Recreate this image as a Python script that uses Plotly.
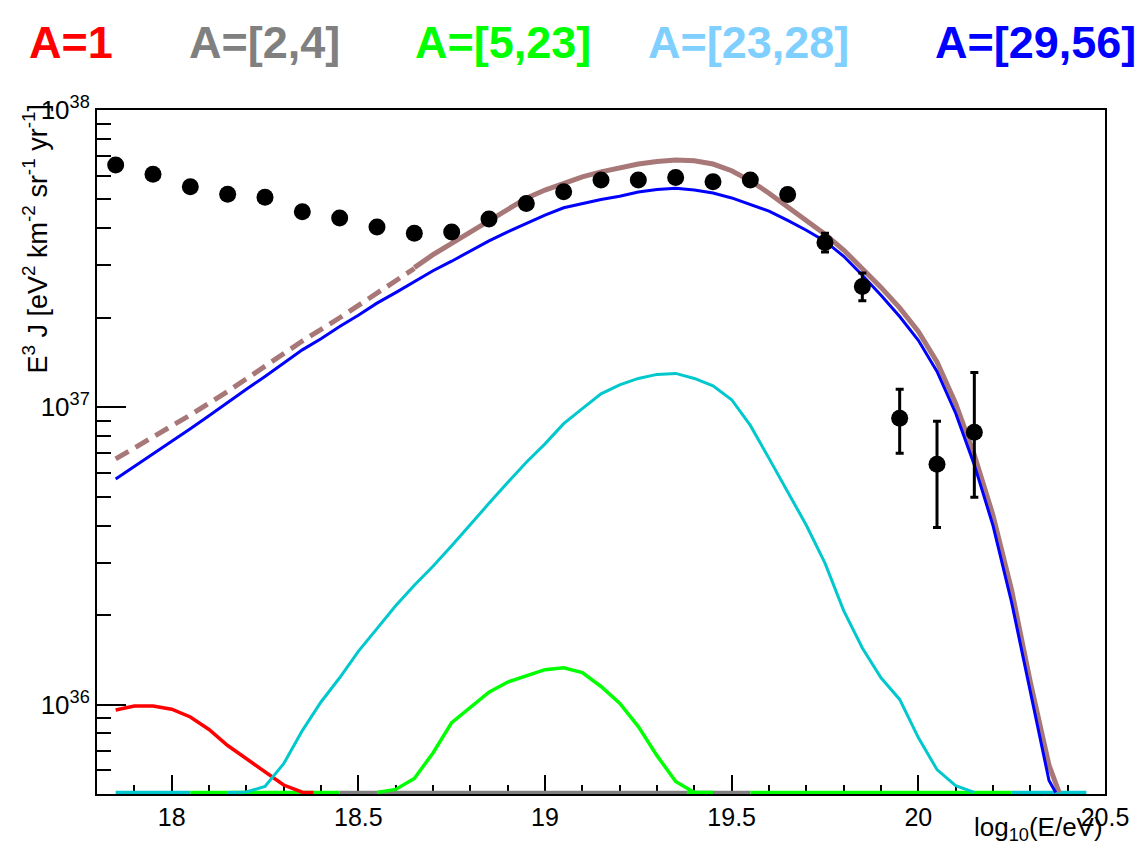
import numpy as np
import plotly.graph_objects as go

# ---------------- data ----------------
Y_MIN, Y_MAX = 5e35, 1e38
FLOOR = 5.06e35  # value at which ROOT draws out-of-range (zero) components

# measured data points
data_x = [17.85, 17.95, 18.05, 18.15, 18.25, 18.35, 18.45, 18.55, 18.65, 18.75, 18.85, 18.95,
          19.05, 19.15, 19.25, 19.35, 19.45, 19.55, 19.65, 19.75, 19.85, 19.95, 20.05, 20.15]
data_y = [6.53e37, 6.08e37, 5.52e37, 5.21e37, 5.09e37, 4.55e37, 4.33e37, 4.04e37, 3.85e37, 3.89e37,
          4.30e37, 4.85e37, 5.31e37, 5.81e37, 5.81e37, 5.93e37, 5.74e37, 5.81e37, 5.20e37, 3.58e37,
          2.55e37, 9.18e36, 6.43e36, 8.24e36]
data_hi = [6.58e37, 6.13e37, 5.57e37, 5.26e37, 5.14e37, 4.60e37, 4.39e37, 4.10e37, 3.92e37, 3.96e37,
           4.39e37, 4.96e37, 5.44e37, 5.97e37, 5.99e37, 6.13e37, 5.95e37, 6.02e37, 5.40e37, 3.85e37,
           2.83e37, 1.15e37, 8.98e36, 1.31e37]
data_lo = [6.48e37, 6.03e37, 5.47e37, 5.16e37, 5.04e37, 4.50e37, 4.27e37, 3.98e37, 3.78e37, 3.82e37,
           4.21e37, 4.74e37, 5.18e37, 5.65e37, 5.63e37, 5.73e37, 5.53e37, 5.60e37, 5.00e37, 3.33e37,
           2.28e37, 7.00e36, 3.94e36, 4.98e36]

# total model (brown), dashed below the fit range
total_dash_x = [17.85, 17.95, 18.05, 18.15, 18.25, 18.35, 18.45, 18.55, 18.65]
total_dash_y = [6.70e36, 7.94e36, 9.42e36, 1.13e37, 1.38e37, 1.67e37, 2.00e37, 2.42e37, 2.93e37]
total_x = [18.65, 18.7, 18.75, 18.8, 18.85, 18.9, 18.95, 19.0, 19.05, 19.1, 19.15, 19.2, 19.25,
           19.3, 19.35, 19.4, 19.45, 19.5, 19.55, 19.6, 19.65, 19.7, 19.75, 19.8, 19.85, 19.9,
           19.95, 20.0, 20.05, 20.1, 20.15, 20.2, 20.25, 20.3, 20.35, 20.377]
total_y = [2.95e37, 3.26e37, 3.56e37, 3.89e37, 4.27e37, 4.67e37, 5.05e37, 5.38e37, 5.69e37, 5.96e37,
           6.19e37, 6.41e37, 6.58e37, 6.71e37, 6.79e37, 6.75e37, 6.58e37, 6.25e37, 5.78e37, 5.25e37,
           4.72e37, 4.27e37, 3.82e37, 3.38e37, 2.93e37, 2.53e37, 2.16e37, 1.80e37, 1.42e37, 1.03e37,
           6.90e36, 4.33e36, 2.42e36, 1.19e36, 6.25e35, FLOOR]

# A=[29,56] component (blue)
heavy_x = [17.85, 17.9, 17.95, 18.0, 18.05, 18.1, 18.15, 18.2, 18.25, 18.3, 18.35, 18.4, 18.45,
           18.5, 18.55, 18.6, 18.65, 18.7, 18.75, 18.8, 18.85, 18.9, 18.95, 19.0, 19.05, 19.1,
           19.15, 19.2, 19.25, 19.3, 19.35, 19.4, 19.45, 19.5, 19.55, 19.6, 19.65, 19.7, 19.75,
           19.8, 19.85, 19.9, 19.95, 20.0, 20.05, 20.1, 20.15, 20.2, 20.25, 20.3, 20.35, 20.368]
heavy_y = [5.74e36, 6.32e36, 6.98e36, 7.69e36, 8.47e36, 9.36e36, 1.04e37, 1.15e37, 1.27e37, 1.41e37,
           1.56e37, 1.70e37, 1.87e37, 2.04e37, 2.24e37, 2.43e37, 2.64e37, 2.88e37, 3.10e37, 3.35e37,
           3.63e37, 3.89e37, 4.15e37, 4.43e37, 4.69e37, 4.85e37, 5.00e37, 5.13e37, 5.30e37, 5.40e37,
           5.45e37, 5.38e37, 5.26e37, 5.06e37, 4.81e37, 4.57e37, 4.25e37, 3.94e37, 3.62e37, 3.22e37,
           2.78e37, 2.38e37, 2.02e37, 1.68e37, 1.32e37, 9.55e36, 6.40e36, 4.00e36, 2.20e36, 1.09e36,
           5.55e35, FLOOR]

# A=[23,28] component (cyan)
mid_x = [18.15, 18.2, 18.25, 18.3, 18.35, 18.4, 18.45, 18.5, 18.55, 18.6, 18.65, 18.7, 18.75, 18.8,
         18.85, 18.9, 18.95, 19.0, 19.05, 19.1, 19.15, 19.2, 19.25, 19.3, 19.35, 19.4, 19.45, 19.5,
         19.55, 19.6, 19.65, 19.7, 19.75, 19.8, 19.85, 19.9, 19.95, 20.0, 20.05, 20.1, 20.15]
mid_y = [FLOOR, 5.08e35, 5.30e35, 6.32e35, 8.17e35, 1.02e36, 1.23e36, 1.51e36, 1.80e36, 2.15e36,
         2.52e36, 2.92e36, 3.42e36, 4.04e36, 4.75e36, 5.58e36, 6.53e36, 7.53e36, 8.81e36, 9.89e36,
         1.11e37, 1.19e37, 1.25e37, 1.29e37, 1.30e37, 1.25e37, 1.18e37, 1.06e37, 8.69e36, 6.73e36,
         5.18e36, 4.01e36, 2.99e36, 2.07e36, 1.55e36, 1.23e36, 1.04e36, 7.74e35, 6.04e35, 5.33e35, FLOOR]

# A=[5,23] component (green)
light_x = [18.55, 18.6, 18.65, 18.7, 18.75, 18.8, 18.85, 18.9, 18.95, 19.0, 19.05, 19.1, 19.15,
           19.2, 19.25, 19.3, 19.35, 19.4]
light_y = [FLOOR, 5.18e35, 5.64e35, 6.87e35, 8.69e35, 9.82e35, 1.10e36, 1.19e36, 1.25e36, 1.31e36,
           1.33e36, 1.28e36, 1.15e36, 1.01e36, 8.43e35, 6.73e35, 5.51e35, FLOOR]

# A=1 component (red)
proton_x = [17.85, 17.9, 17.95, 18.0, 18.05, 18.1, 18.15, 18.2, 18.25, 18.3, 18.35, 18.38]
proton_y = [9.59e35, 9.89e35, 9.89e35, 9.64e35, 9.08e35, 8.24e35, 7.28e35, 6.58e35, 5.90e35,
            5.36e35, 5.07e35, FLOOR]

# parts of the components that lie below the plotted range (drawn on the floor)
floor_colors = ["cyan", "green", "green", "gray", "green", "gray", "green", "cyan"]
floor_start = [17.85, 18.05, 18.15, 18.45, 19.38, 19.45, 19.55, 20.25]
floor_end = [18.05, 18.15, 18.45, 19.45, 19.45, 19.55, 20.25, 20.45]

legend_labels = ["A=1", "A=[2,4]", "A=[5,23]", "A=[23,28]", "A=[29,56]"]

x_tickvals = [18, 18.5, 19, 19.5, 20, 20.5]
x_ticktext = ["18", "18.5", "19", "19.5", "20", "20.5"]
y_tickvals = [1e36, 1e37, 1e38]
y_ticktext = ["10<sup>36</sup>", "10<sup>37</sup>", "10<sup>38</sup>"]

# ---------------- style ----------------
COL = {"red": "#ff0000", "gray": "#808080", "green": "#00ff00", "cyan": "#00c8cc",
       "blue": "#0000ff", "brown": "#a87878"}
legend_colors = ["#ff0000", "#808080", "#00ff00", "#80d0ff", "#0000ff"]
FONT = "Liberation Sans, Arial, Helvetica, sans-serif"

fig = go.Figure()

for c, a, b in zip(floor_colors, floor_start, floor_end):
    fig.add_trace(go.Scatter(x=[a, b], y=[FLOOR, FLOOR], mode="lines",
                             line=dict(color=COL[c], width=3.5), hoverinfo="skip"))

fig.add_trace(go.Scatter(x=proton_x, y=proton_y, mode="lines", line=dict(color=COL["red"], width=3.5)))
fig.add_trace(go.Scatter(x=light_x, y=light_y, mode="lines", line=dict(color=COL["green"], width=3.5)))
fig.add_trace(go.Scatter(x=mid_x, y=mid_y, mode="lines", line=dict(color=COL["cyan"], width=3)))
fig.add_trace(go.Scatter(x=total_dash_x, y=total_dash_y, mode="lines",
                         line=dict(color=COL["brown"], width=5, dash="15px,8px")))
fig.add_trace(go.Scatter(x=total_x, y=total_y, mode="lines", line=dict(color=COL["brown"], width=5)))
fig.add_trace(go.Scatter(x=heavy_x, y=heavy_y, mode="lines", line=dict(color=COL["blue"], width=3)))

err_plus = [h - y for h, y in zip(data_hi, data_y)]
err_minus = [y - l for y, l in zip(data_y, data_lo)]
fig.add_trace(go.Scatter(
    x=data_x, y=data_y, mode="markers",
    marker=dict(color="black", size=17, symbol="circle"),
    error_y=dict(type="data", array=err_plus, arrayminus=err_minus, color="black",
                 thickness=3, width=4, symmetric=False)))

y_minor = [m * 10.0 ** e for e in (35, 36, 37) for m in range(2, 10) if Y_MIN <= m * 10.0 ** e <= Y_MAX]

fig.update_layout(
    width=1143, height=846,
    margin=dict(l=97, r=38, t=110, b=52),
    paper_bgcolor="white", plot_bgcolor="white",
    showlegend=False,
    font=dict(family=FONT, color="black"),
    xaxis=dict(range=[17.8, 20.5], showgrid=False, zeroline=False,
               showline=True, linecolor="black", linewidth=2, mirror=True,
               ticks="inside", ticklen=19, tickwidth=1.5, tickcolor="black",
               tickvals=x_tickvals, ticktext=x_ticktext,
               tickfont=dict(size=25, family=FONT, color="black"),
               minor=dict(dtick=0.1, tick0=17.8, ticks="inside", ticklen=9, tickwidth=1.5,
                          tickcolor="black", showgrid=False),
               layer="below traces"),
    yaxis=dict(type="log", range=[np.log10(Y_MIN), np.log10(Y_MAX)], showgrid=False, zeroline=False,
               showline=True, linecolor="black", linewidth=2, mirror=True,
               ticks="inside", ticklen=29, tickwidth=1.5, tickcolor="black",
               tickvals=y_tickvals, ticktext=y_ticktext,
               tickfont=dict(size=26, family=FONT, color="black"),
               minor=dict(tickmode="array", tickvals=y_minor, ticks="inside", ticklen=14,
                          tickwidth=1.5, tickcolor="black", showgrid=False),
               layer="below traces"),
)

# legend as coloured text on top
legend_centers_px = [71, 264, 503, 748, 1035]
for lab, col, cx in zip(legend_labels, legend_colors, legend_centers_px):
    fig.add_annotation(text=f"<b>{lab}</b>", x=(cx - 97) / 1008, y=(794 - 42) / 684,
                       xref="paper", yref="paper", xanchor="center", yanchor="middle",
                       showarrow=False,
                       font=dict(size=45, color=col, family=FONT))

fig.add_annotation(text="E<sup>3</sup> J [eV<sup>2</sup> km<sup>-2</sup> sr<sup>-1</sup> yr<sup>-1</sup>]",
                   x=(36 - 97) / 1008, y=(794 - 103) / 684, xref="paper", yref="paper",
                   xanchor="center", yanchor="top", textangle=-90, showarrow=False,
                   font=dict(size=27, family=FONT, color="black"))
fig.add_annotation(text="log<sub>10</sub>(E/eV)", x=1.0, y=(794 - 810) / 684,
                   xref="paper", yref="paper", xanchor="right", yanchor="top",
                   showarrow=False, font=dict(size=26, family=FONT, color="black"))

fig.write_html("out.html")
